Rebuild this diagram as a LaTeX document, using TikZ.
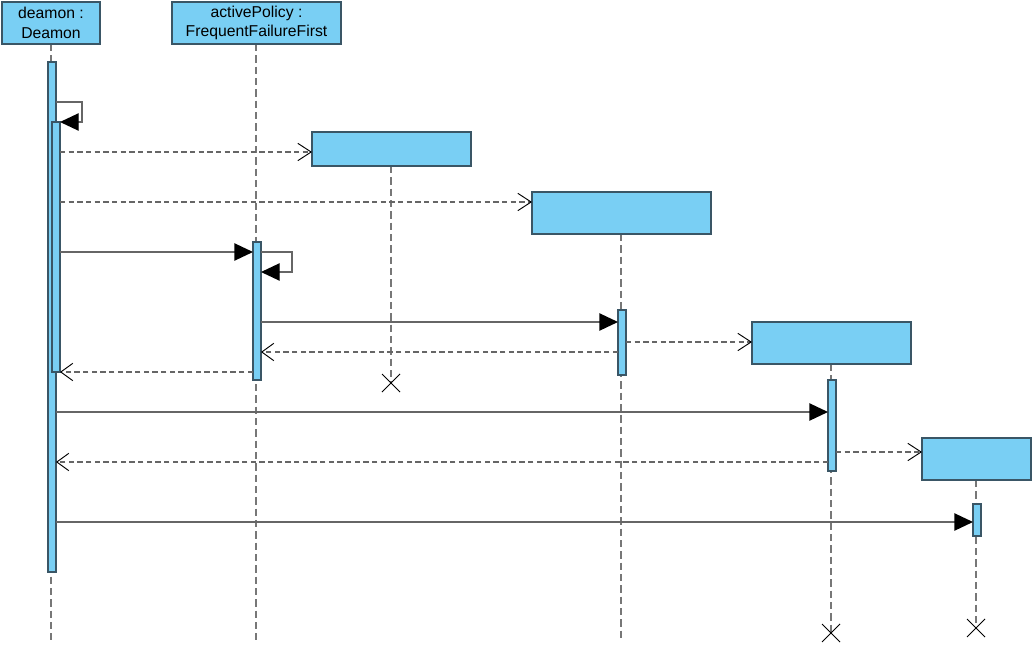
\documentclass[tikz,border=0pt]{standalone}
\usepackage{fontspec}
\setmainfont{Liberation Sans}
\usetikzlibrary{arrows.meta,calc}
\definecolor{boxfill}{HTML}{79CFF4}
\definecolor{boxline}{HTML}{3A5666}
\definecolor{lifegray}{HTML}{777777}
\definecolor{msggray}{HTML}{666666}
\begin{document}
\begin{tikzpicture}[x=0.75pt,y=-0.75pt,
  objbox/.style={draw=boxline,fill=boxfill,line width=0.9pt},
  actbar/.style={draw=boxline,fill=boxfill,line width=0.8pt},
  lifeline/.style={draw=lifegray,line width=1.2pt,dash pattern=on 5.5pt off 3pt},
  call/.style={draw=msggray,line width=1pt,-{Triangle[length=14pt,width=13pt,fill=black,black]}},
  reply/.style={draw=msggray,line width=1pt,dash pattern=on 4pt off 2.5pt,-{Straight Barb[length=9pt,width=13pt,black,line width=0.7pt]}},
  create/.style={draw=msggray,line width=1pt,dash pattern=on 4pt off 2.5pt,-{Straight Barb[length=10pt,width=13pt,black,line width=0.7pt]}},
  kill/.style={draw=black,line width=0.7pt},
  lbl/.style={font=\fontsize{11.8}{14.5}\selectfont,align=center,text=black}]
\useasboundingbox (0,0) rectangle (1036,646);
\fill[white] (0,0) rectangle (1036,646);

% lifelines
\coordinate (l1b) at (51,640);
\coordinate (l2b) at (256,640);
\coordinate (l4b) at (621,640);
\coordinate (x3) at (391,383);
\coordinate (x5) at (831,633);
\coordinate (x6) at (976,628);
\draw[lifeline] (51,44) -- (l1b);
\draw[lifeline] (256,44) -- (l2b);
\draw[lifeline] (391,166) -- (x3);
\draw[lifeline] (621,234) -- (l4b);
\draw[lifeline] (831,364) -- (x5);
\draw[lifeline] (976,480) -- (x6);

% object boxes
\node[objbox,lbl,minimum width=98*0.75pt,minimum height=42*0.75pt,inner sep=0pt] (o1) at (51,23) {deamon :\\Deamon};
\node[objbox,lbl,minimum width=169*0.75pt,minimum height=42*0.75pt,inner sep=0pt] (o2) at (256.5,23) {activePolicy :\\FrequentFailureFirst};
\path[objbox] (312,132) rectangle (471,166);
\coordinate (o3) at (312,152);
\path[objbox] (532,192) rectangle (711,234);
\coordinate (o4) at (532,202);
\path[objbox] (752,322) rectangle (911,364);
\coordinate (o5) at (752,342);
\path[objbox] (922,438) rectangle (1031,480);
\coordinate (o6) at (922,452);

% activation bars
\path[actbar] (48,62) rectangle (56,572);
\path[actbar] (52,122) rectangle (60,372);
\path[actbar] (253,242) rectangle (261,380);
\path[actbar] (618,310) rectangle (626,375);
\path[actbar] (828,380) rectangle (836,471);
\path[actbar] (973,504) rectangle (981,536);

% message endpoints
\coordinate (s1a) at (56,102);
\coordinate (s1b) at (60,122);
\coordinate (m2a) at (60,152);
\coordinate (m3a) at (60,202);
\coordinate (m4a) at (60,252);
\coordinate (m4b) at (253,252);
\coordinate (s2a) at (261,252);
\coordinate (s2b) at (261,272);
\coordinate (m5a) at (261,322);
\coordinate (m5b) at (618,322);
\coordinate (r5a) at (618,352);
\coordinate (r5b) at (261,352);
\coordinate (m6a) at (626,342);
\coordinate (r4a) at (253,372);
\coordinate (r4b) at (60,372);
\coordinate (m7a) at (56,412);
\coordinate (m7b) at (828,412);
\coordinate (r7a) at (828,462);
\coordinate (r7b) at (56,462);
\coordinate (m8a) at (836,452);
\coordinate (m9a) at (56,522);
\coordinate (m9b) at (973,522);

% messages
\draw[call] (s1a) -- ++(26,0) |- (s1b);
\draw[create] (m2a) -- (o3);
\draw[create] (m3a) -- (o4);
\draw[call] (m4a) -- (m4b);
\draw[call] (s2a) -- ++(31,0) |- (s2b);
\draw[call] (m5a) -- (m5b);
\draw[reply] (r5a) -- (r5b);
\draw[create] (m6a) -- (o5);
\draw[reply] (r4a) -- (r4b);
\draw[call] (m7a) -- (m7b);
\draw[reply] (r7a) -- (r7b);
\draw[create] (m8a) -- (o6);
\draw[call] (m9a) -- (m9b);

% destruction marks
\foreach \c in {x3,x5,x6}{
  \draw[kill] ($(\c)+(-9,-9)$) -- ($(\c)+(9,9)$);
  \draw[kill] ($(\c)+(-9,9)$) -- ($(\c)+(9,-9)$);
}
\end{tikzpicture}
\end{document}
